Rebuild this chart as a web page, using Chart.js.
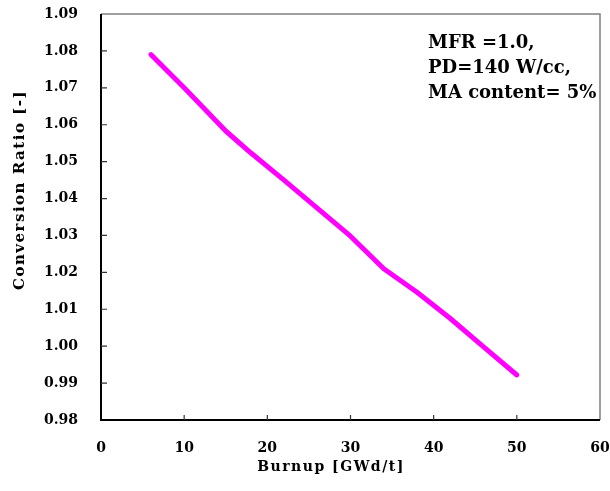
<!DOCTYPE html>
<html>
<head>
<meta charset="utf-8">
<script src="https://cdn.jsdelivr.net/npm/chart.js@4"></script>
<style>
    html, body { margin: 0; padding: 0; background: #fff; }
    #wrap { width: 610px; height: 491px; position: relative; }
</style>
</head>
<body>
<div id="wrap"><canvas id="chartCR"></canvas></div>
<script>
// burnup [GWd/t] vs conversion ratio
const burnup = [6, 10, 15, 18, 22, 26, 30, 34, 38, 42, 46, 50];
const convRatio = [1.079, 1.0700, 1.0583, 1.0524, 1.0450, 1.0374, 1.0298, 1.0210, 1.0146, 1.0075, 0.9998, 0.9922];
const xTicks = [0, 10, 20, 30, 40, 50, 60];
const yTicks = [0.98, 0.99, 1.00, 1.01, 1.02, 1.03, 1.04, 1.05, 1.06, 1.07, 1.08, 1.09];
const noteLines = ["MFR =1.0,", "PD=140 W/cc,", "MA content= 5%"];

const FONT = "'DejaVu Serif', serif";

function spaced(ctx, px) {
    if ("letterSpacing" in ctx) ctx.letterSpacing = px + "px";
}

const framePlugin = {
    id: "frame",
    afterDraw(chart) {
        const ctx = chart.ctx;
        const a = chart.chartArea;
        const xs = chart.scales.x, ys = chart.scales.y;
        ctx.save();
        // top + right border
        ctx.strokeStyle = "#808080";
        ctx.lineWidth = 1.5;
        ctx.beginPath();
        ctx.moveTo(a.left, a.top);
        ctx.lineTo(a.right, a.top);
        ctx.lineTo(a.right, a.bottom);
        ctx.stroke();
        // left + bottom axes
        ctx.strokeStyle = "#000";
        ctx.lineWidth = 2;
        ctx.beginPath();
        ctx.moveTo(a.left, a.top);
        ctx.lineTo(a.left, a.bottom);
        ctx.lineTo(a.right, a.bottom);
        ctx.stroke();
        // inward ticks
        ctx.lineWidth = 1.2;
        ctx.strokeStyle = "#333";
        ctx.beginPath();
        xTicks.slice(1, -1).forEach(v => {
            const px = xs.getPixelForValue(v);
            ctx.moveTo(px, a.bottom);
            ctx.lineTo(px, a.bottom - 5);
        });
        yTicks.slice(1, -1).forEach(v => {
            const py = ys.getPixelForValue(v);
            ctx.moveTo(a.left, py);
            ctx.lineTo(a.left + 6, py);
        });
        ctx.stroke();
        // axis titles
        ctx.fillStyle = "#000";
        ctx.font = "bold 14px " + FONT;
        ctx.textAlign = "center";
        ctx.textBaseline = "middle";
        spaced(ctx, 1.5);
        ctx.fillText("Burnup [GWd/t]", 331, 467);
        ctx.save();
        ctx.translate(20, 190);
        ctx.rotate(-Math.PI / 2);
        ctx.font = "bold 15px " + FONT;
        spaced(ctx, 1.5);
        ctx.fillText("Conversion Ratio [-]", 0, 0);
        ctx.restore();
        // note
        ctx.font = "bold 18px " + FONT;
        ctx.textAlign = "left";
        ctx.textBaseline = "alphabetic";
        spaced(ctx, 0);
        noteLines.forEach((t, i) => ctx.fillText(t, 428, 48 + i * 25));
        ctx.restore();
    }
};

new Chart(document.getElementById("chartCR"), {
    type: "line",
    data: {
        datasets: [{
            data: burnup.map((b, i) => ({ x: b, y: convRatio[i] })),
            borderColor: "#ff00ff",
            borderWidth: 5,
            borderCapStyle: "round",
            borderJoinStyle: "round",
            pointRadius: 0,
            fill: false,
            tension: 0
        }]
    },
    options: {
        responsive: true,
        maintainAspectRatio: false,
        animation: false,
        layout: { padding: { top: 14, right: 10, left: 0, bottom: 0 } },
        plugins: { legend: { display: false }, tooltip: { enabled: false } },
        scales: {
            x: {
                type: "linear",
                min: 0, max: 60,
                afterBuildTicks: s => { s.ticks = xTicks.map(v => ({ value: v })); },
                afterFit: s => { s.height = 71; s.paddingLeft = 0; s.paddingRight = 0; },
                grid: { display: false, drawTicks: false },
                border: { display: false },
                ticks: {
                    color: "#000",
                    padding: 20,
                    maxRotation: 0,
                    font: { family: FONT, size: 14, weight: "bold" }
                }
            },
            y: {
                type: "linear",
                min: 0.98, max: 1.09,
                afterBuildTicks: s => { s.ticks = yTicks.map(v => ({ value: v })); },
                afterFit: s => { s.width = 101; s.paddingTop = 0; s.paddingBottom = 0; },
                grid: { display: false, drawTicks: false },
                border: { display: false },
                ticks: {
                    color: "#000",
                    padding: 23,
                    font: { family: FONT, size: 14, weight: "bold" },
                    callback: v => v.toFixed(2)
                }
            }
        }
    },
    plugins: [framePlugin]
});
</script>
</body>
</html>
